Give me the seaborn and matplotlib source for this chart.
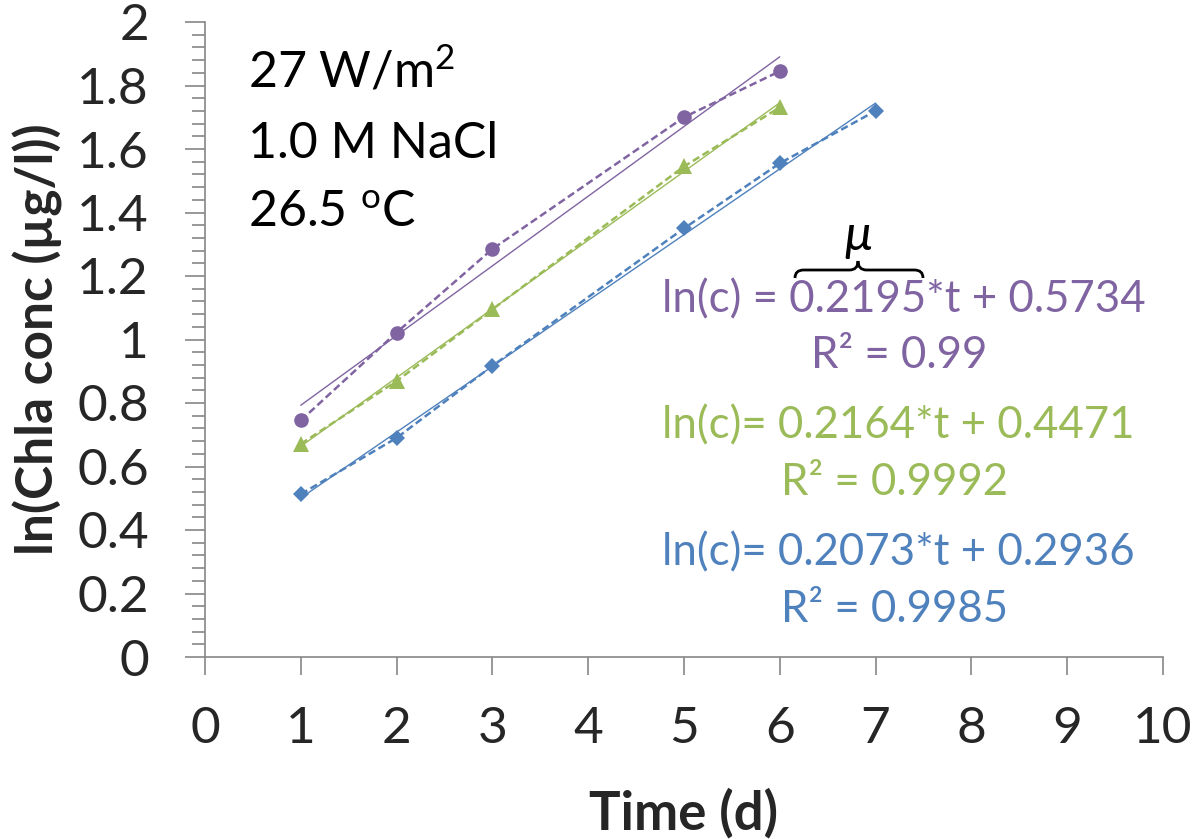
import numpy as np
import pandas as pd
import seaborn as sns
import matplotlib.pyplot as plt
from matplotlib.path import Path
from matplotlib.patches import PathPatch
from matplotlib.ticker import MultipleLocator

# ---- data ----
t_purple = [1, 2, 3, 5, 6]
y_purple = [0.745, 1.022, 1.285, 1.700, 1.845]
t_green = [1, 2, 3, 5, 6]
y_green = [0.671, 0.869, 1.095, 1.545, 1.731]
t_blue = [1, 2, 3, 5, 6, 7]
y_blue = [0.513, 0.690, 0.917, 1.350, 1.555, 1.720]

slopes = [0.2195, 0.2164, 0.2073]
intercepts = [0.5734, 0.4471, 0.2936]
r2_labels = ["0.99", "0.9992", "0.9985"]
eq_prefix = ["ln(c) = ", "ln(c)= ", "ln(c)= "]

x_ticks = list(range(0, 11))
y_ticks = [0, 0.2, 0.4, 0.6, 0.8, 1.0, 1.2, 1.4, 1.6, 1.8, 2.0]

purple = "#8064A2"
green = "#9BBB59"
blue = "#4F81BD"

sns.set_theme(style="white")
plt.rcParams['font.family'] = ['Lato', 'DejaVu Sans']
plt.rcParams['mathtext.fontset'] = 'custom'
plt.rcParams['mathtext.rm'] = 'Lato'
plt.rcParams['mathtext.it'] = 'Lato:italic'
plt.rcParams['mathtext.bf'] = 'Lato:bold'

W, H = 1199, 839
fig = plt.figure(figsize=(W / 100, H / 100), dpi=100)
ax = fig.add_axes([205 / W, 1 - 657 / H, (1163 - 205) / W, (657 - 22) / H])

def px2y(py):
    return (657 - py) / 317.5

def px2x(px):
    return (px - 205) / 95.8

series = [
    (t_purple, y_purple, purple, "o", 10.5),
    (t_green, y_green, green, "^", 11),
    (t_blue, y_blue, blue, "D", 8),
]
for i, (tt, yy, col, mk, ms) in enumerate(series):
    df = pd.DataFrame({"t": tt, "y": yy})
    sns.lineplot(data=df, x="t", y="y", ax=ax, color=col, linestyle=(0, (3, 1.5)),
                 linewidth=1.8, marker=mk, markersize=ms, markeredgewidth=0)
    tfit = np.array([min(tt), max(tt)], dtype=float)
    ax.plot(tfit, slopes[i] * tfit + intercepts[i], color=col, linewidth=1.0)

ax.set_xlim(0, 10)
ax.set_ylim(0, 2)
ax.set_xticks(x_ticks)
ax.set_yticks(y_ticks)
ax.yaxis.set_minor_locator(MultipleLocator(0.04))
ax.set_yticklabels([f"{v:g}" for v in y_ticks])
ax.tick_params(axis='x', which='major', direction='out', length=13, width=1.2,
               color='#868686', labelsize=37, pad=22, bottom=True)
ax.tick_params(axis='y', which='major', direction='out', length=14.4, width=1.2,
               color='#868686', labelsize=37, pad=26, left=True)
ax.tick_params(axis='y', which='minor', direction='out', length=9.4, width=1.2,
               color='#868686', left=True)
for s in ['top', 'right']:
    ax.spines[s].set_visible(False)
for s in ['left', 'bottom']:
    ax.spines[s].set_color('#868686')
    ax.spines[s].set_linewidth(1.2)

ax.set_xlabel("Time (d)", fontsize=38, fontweight='bold', labelpad=26)
ax.set_ylabel("ln(Chla conc (µg/l))", fontsize=37, fontweight='bold', labelpad=10)

# condition text
cx = px2x(248)
ax.text(cx, px2y(88), "27 W/m$^{2}$", fontsize=36, color='black', va='baseline', ha='left')
ax.text(cx, px2y(158), "1.0 M NaCl", fontsize=36, color='black', va='baseline', ha='left')
ax.text(cx, px2y(227), "26.5 $^{\\mathrm{o}}$C", fontsize=36, color='black', va='baseline', ha='left')

# equations
cols = [purple, green, blue]
eq_base = [312, 438, 565]
r2_base = [368, 495, 622]
r2_cx = [899, 894, 894]
for i in range(3):
    ax.text(px2x(662), px2y(eq_base[i]),
            f"{eq_prefix[i]}{slopes[i]:.4f}*t + {intercepts[i]:.4f}",
            fontsize=31.5, color=cols[i], ha='left', va='baseline')
    ax.text(px2x(r2_cx[i]), px2y(r2_base[i]),
            f"R² = {r2_labels[i]}", fontsize=31.5, color=cols[i], ha='center', va='baseline')

# brace over slope
x0, x1 = px2x(795), px2x(923)
xm = px2x(858)
yb, yt, yp = px2y(278), px2y(270), px2y(261)
d = 0.09
verts = [(x0, yb), (x0, yt), (x0 + d, yt),
         (xm - d, yt),
         (xm, yt), (xm, yp),
         (xm, yt), (xm + d, yt),
         (x1 - d, yt),
         (x1, yt), (x1, yb)]
codes = [Path.MOVETO, Path.CURVE3, Path.CURVE3,
         Path.LINETO,
         Path.CURVE3, Path.CURVE3,
         Path.CURVE3, Path.CURVE3,
         Path.LINETO,
         Path.CURVE3, Path.CURVE3]
ax.add_patch(PathPatch(Path(verts, codes), fill=False, lw=2.0, edgecolor='black',
                       clip_on=False))
ax.text(px2x(858), px2y(250), "μ", fontsize=36, ha='center', va='baseline',
        color='black', style='italic')

fig.savefig("out.png", dpi=100)
